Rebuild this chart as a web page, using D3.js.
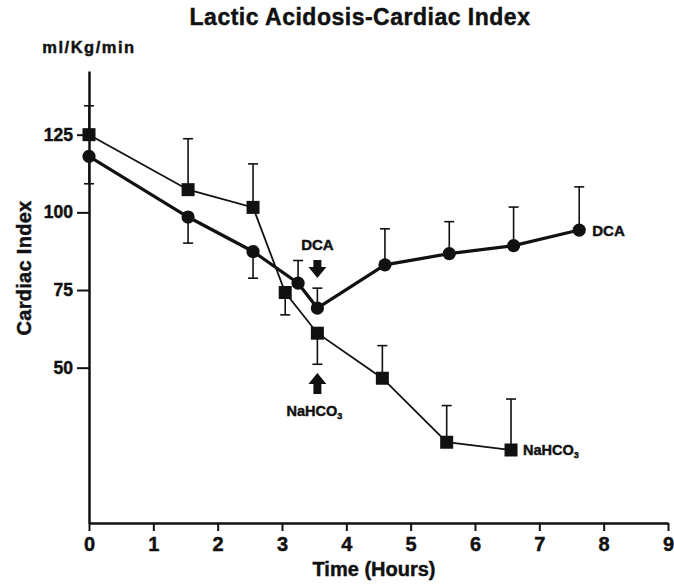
<!DOCTYPE html>
<html>
  <head>
    <meta charset="utf-8">
    <script src="https://d3js.org/d3.v7.min.js"></script>
    <style>
      body { margin: 0; background: #fff; }
      svg { display: block; }
      text { font-family: "Liberation Sans", Arial, Helvetica, sans-serif; font-weight: bold; fill: #111; stroke: #111; stroke-width: 0.45px; }
    </style>
  </head>
<body>
<script>
"use strict";

// NaHCO3 group (squares)
var sqTime  = [0, 1.54, 2.55, 3.05, 3.55, 4.56, 5.56, 6.56];
var sqValue = [125, 107.3, 101.6, 74.2, 61.1, 46.6, 26, 23.5];
var sqErr   = [134.3, 123.7, 115.6, 67, 51.1, 57.1, 37.8, 39.9];   // end of the error bar

// DCA group (circles)
var ciTime  = [0, 1.54, 2.55, 3.25, 3.55, 4.6, 5.6, 6.6, 7.62];
var ciValue = [118, 98.5, 87.4, 77.2, 69.2, 83.1, 86.7, 89.3, 94.3];
var ciErr   = [109.2, 90.1, 78.8, 84.5, 75.6, 94.7, 97, 101.7, 108.2];

var xTicks = [0, 1, 2, 3, 4, 5, 6, 7, 8, 9];
var yTicks = [50, 75, 100, 125];
var treatTime = 3.55;   // both treatments start here

var width = 674, height = 587;

var svg = d3.select("body").append("svg")
    .attr("width", width)
    .attr("height", height);

var x = d3.scaleLinear().domain([0, 9]).range([89, 668]);
var y = d3.scaleLinear().domain([0, 145.5]).range([523, 71]);

// title + units
svg.append("text")
    .attr("x", 360).attr("y", 25)
    .attr("text-anchor", "middle")
    .style("font-size", "23px")
    .style("letter-spacing", "0.5px")
    .text("Lactic Acidosis-Cardiac Index");

svg.append("text")
    .attr("x", 89).attr("y", 53)
    .attr("text-anchor", "middle")
    .style("font-size", "16.5px")
    .style("letter-spacing", "1.5px")
    .text("ml/Kg/min");

// axes
var yAxis = svg.append("g")
    .attr("transform", "translate(" + x(0) + ",0)")
    .call(d3.axisLeft(y).tickValues(yTicks).tickSize(12).tickSizeOuter(0).tickPadding(4));
yAxis.select(".domain").attr("stroke", "#111").attr("stroke-width", 2.5);
yAxis.selectAll(".tick line").attr("stroke", "#111").attr("stroke-width", 2);
yAxis.selectAll(".tick text").style("font-size", "17.5px").attr("fill", "#111");

var xAxis = svg.append("g")
    .attr("transform", "translate(0," + y(0) + ")")
    .call(d3.axisBottom(x).tickValues(xTicks).tickSize(8).tickSizeOuter(0).tickPadding(6));
xAxis.select(".domain").attr("stroke", "#111").attr("stroke-width", 2.5);
xAxis.selectAll(".tick line").attr("stroke", "#111").attr("stroke-width", 2);
xAxis.selectAll(".tick text").style("font-size", "20px").attr("fill", "#111");

svg.append("text")
    .attr("x", 374).attr("y", 576)
    .attr("text-anchor", "middle")
    .style("font-size", "20px")
    .text("Time (Hours)");

svg.append("text")
    .attr("transform", "translate(31,268) rotate(-90)")
    .attr("text-anchor", "middle")
    .style("font-size", "20px")
    .style("letter-spacing", "0.3px")
    .text("Cardiac Index");

// build point tables
var squares = sqTime.map(function(t, i) { return { t: t, v: sqValue[i], e: sqErr[i] }; });
var circles = ciTime.map(function(t, i) { return { t: t, v: ciValue[i], e: ciErr[i] }; });

function errorBars(data) {
    var g = svg.append("g").attr("stroke", "#111").attr("stroke-width", 1.6);
    g.selectAll("line.bar").data(data).enter().append("line")
        .attr("x1", function(d) { return x(d.t); })
        .attr("x2", function(d) { return x(d.t); })
        .attr("y1", function(d) { return y(d.v); })
        .attr("y2", function(d) { return y(d.e); });
    g.selectAll("line.cap").data(data).enter().append("line")
        .attr("x1", function(d) { return x(d.t) - 5; })
        .attr("x2", function(d) { return x(d.t) + 5; })
        .attr("y1", function(d) { return y(d.e); })
        .attr("y2", function(d) { return y(d.e); });
}

errorBars(squares);
errorBars(circles);

var line = d3.line()
    .x(function(d) { return x(d.t); })
    .y(function(d) { return y(d.v); });

svg.append("path").datum(squares)
    .attr("d", line)
    .attr("fill", "none")
    .attr("stroke", "#111")
    .attr("stroke-width", 1.8);

svg.append("path").datum(circles)
    .attr("d", line)
    .attr("fill", "none")
    .attr("stroke", "#111")
    .attr("stroke-width", 3.2);

svg.selectAll("rect.sq").data(squares).enter().append("rect")
    .attr("x", function(d) { return x(d.t) - 6.5; })
    .attr("y", function(d) { return y(d.v) - 6.5; })
    .attr("width", 13).attr("height", 13)
    .attr("fill", "#111");

svg.selectAll("circle.ci").data(circles).enter().append("circle")
    .attr("cx", function(d) { return x(d.t); })
    .attr("cy", function(d) { return y(d.v); })
    .attr("r", 6.6)
    .attr("fill", "#111");

// end labels
var lastC = circles[circles.length - 1];
svg.append("text")
    .attr("x", x(lastC.t) + 13).attr("y", y(lastC.v) + 5.5)
    .style("font-size", "15px")
    .text("DCA");

var lastS = squares[squares.length - 1];
var nl = svg.append("text")
    .attr("x", x(lastS.t) + 12).attr("y", y(lastS.v) + 5.5)
    .style("font-size", "14.5px")
    .text("NaHCO");
nl.append("tspan").attr("dy", 3).style("font-size", "9px").text("3");

// treatment arrows
var ax = x(treatTime);
svg.append("text")
    .attr("x", ax).attr("y", 250)
    .attr("text-anchor", "middle")
    .style("font-size", "15px")
    .text("DCA");

svg.append("path")
    .attr("d", "M" + (ax - 4) + ",260 H" + (ax + 4) + " V267 H" + (ax + 9) +
        " L" + ax + ",278 L" + (ax - 9) + ",267 H" + (ax - 4) + " Z")
    .attr("fill", "#111");

svg.append("path")
    .attr("d", "M" + (ax - 4) + ",394 H" + (ax + 4) + " V384 H" + (ax + 9) +
        " L" + ax + ",373 L" + (ax - 9) + ",384 H" + (ax - 4) + " Z")
    .attr("fill", "#111");

var nb = svg.append("text")
    .attr("x", ax - 3).attr("y", 416)
    .attr("text-anchor", "middle")
    .style("font-size", "14.5px")
    .text("NaHCO");
nb.append("tspan").attr("dy", 3).style("font-size", "9px").text("3");
</script>
</body>
</html>
